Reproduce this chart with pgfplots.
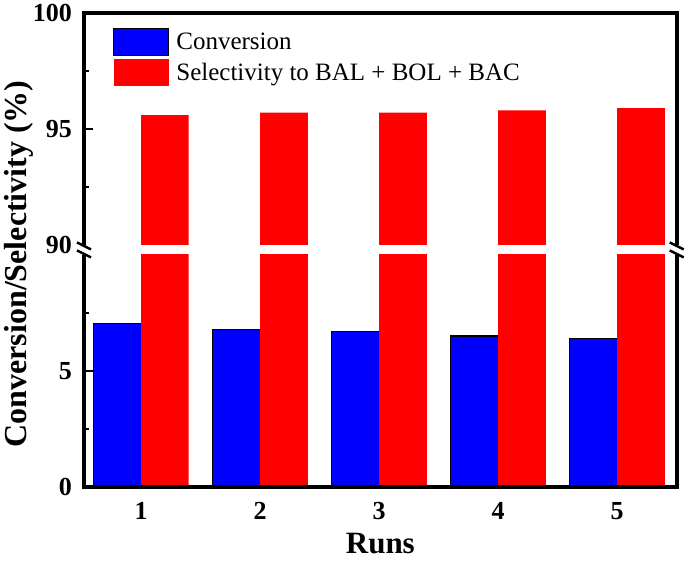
\documentclass[border=0pt]{standalone}
\usepackage{fontspec}
\setmainfont{Liberation Serif}
\usepackage{pgfplots}
\usepackage{pgfplotstable}
\pgfplotsset{compat=1.18}
\definecolor{cblue}{RGB}{0,0,255}
\definecolor{cred}{RGB}{255,0,0}

\pgfplotstableread{
run conv
1 7.03
2 6.80
3 6.69
4 6.50
5 6.40
}\convtable
\pgfplotstableread{
run sel
1 95.60
2 95.70
3 95.70
4 95.80
5 95.90
}\seltable

\begin{document}
\begin{tikzpicture}
\path (0pt,0pt) rectangle (685pt,-565pt);
\pgfplotsset{
  common/.style={
    scale only axis, width=593pt, height=232pt,
    xmin=0.52, xmax=5.5,
    axis line style={draw=none},
    tick align=inside, ytick pos=left, xtick pos=bottom,
    major tick length=9pt, minor tick length=5pt,
    every tick/.style={black, line width=2pt},
    xtick style={draw=none},
    /pgf/number format/assume math mode=true,
    tick label style={font=\fontsize{26}{26}\selectfont\bfseries},
    yticklabel style={xshift=-8.5pt},
    xticklabel style={yshift=-12pt},
  },
  bluebar/.style={ybar, bar width=0.4, bar shift=-0.2, fill=cblue, draw=black, line width=1.2pt},
  redbar/.style={ybar, bar width=0.4, bar shift=0.2, fill=cred, draw=none,
    legend image code/.code={\fill[cred] (0pt,-13.5pt) rectangle (55pt,13.5pt);}},
}
% lower part
\begin{axis}[common, at={(84pt,-487pt)}, anchor=south west,
  ymin=0, ymax=10, ytick={0,5}, minor ytick={2.5,7.5},
  xtick={1,2,3,4,5},
  xlabel={Runs},
  xlabel style={font=\fontsize{31}{31}\selectfont\bfseries,
    at={(axis description cs:0.5,-0.2457)}, anchor=center},
]
\addplot[bluebar] table[x=run,y=conv]{\convtable};
\addplot[redbar] table[x=run,y=sel]{\seltable};
\end{axis}
% upper part
\begin{axis}[common, at={(84pt,-245pt)}, anchor=south west,
  ymin=90, ymax=100, ytick={95,100}, minor ytick={92.5,97.5},
  extra y ticks={90}, extra y tick style={major tick length=0pt},
  xtick=\empty,
  legend style={draw=none, fill=none, at={(0.049,0.935)}, anchor=north west,
    inner sep=0pt, row sep=3pt, column sep=7pt,
    nodes={inner sep=0pt, text height=21pt, text depth=6pt},
    font=\fontsize{25}{29}\selectfont},
  legend cell align=left,
]
\addlegendimage{legend image code/.code={\draw[fill=cblue,draw=black,line width=1.2pt] (0pt,-13.5pt) rectangle (55pt,13.5pt);}}
\addplot[redbar] table[x=run,y=sel]{\seltable};
\legend{Conversion, Selectivity to BAL + BOL + BAC}
\end{axis}
% axis frame
\draw[line width=3.5pt] (84pt,-255pt) -- (84pt,-487pt) -- (677pt,-487pt) -- (677pt,-255pt);
\draw[line width=3.5pt] (84pt,-245pt) -- (84pt,-13pt) -- (677pt,-13pt) -- (677pt,-245pt);
% break marks
\foreach \xx in {84,677}{
  \draw[line width=2.5pt] (\xx pt-7pt,-242.5pt) -- (\xx pt+7pt,-249.5pt);
  \draw[line width=2.5pt] (\xx pt-7pt,-250.5pt) -- (\xx pt+7pt,-257.5pt);
}
\node[rotate=90, font=\fontsize{32}{32}\selectfont\bfseries] at (19pt,-264pt) {Conversion/Selectivity (\%)};
\end{tikzpicture}
\end{document}
